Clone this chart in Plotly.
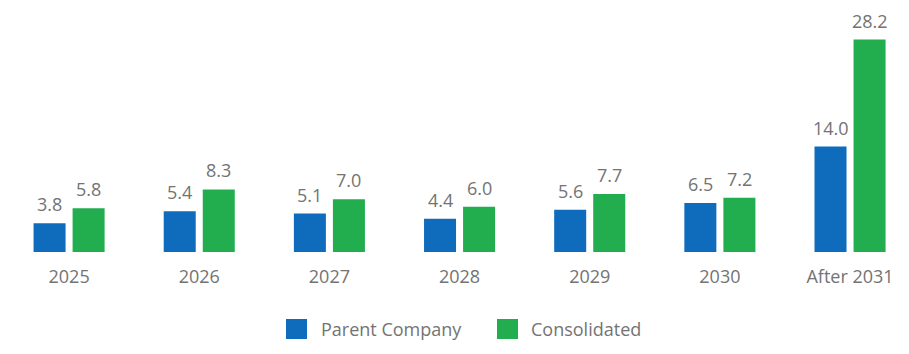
import plotly.graph_objects as go

categories = ["2025", "2026", "2027", "2028", "2029", "2030", "After 2031"]
parent_company = [3.8, 5.4, 5.1, 4.4, 5.6, 6.5, 14.0]
consolidated = [5.8, 8.3, 7.0, 6.0, 7.7, 7.2, 28.2]
series_names = ["Parent Company", "Consolidated"]

BLUE = "#0f6cbd"
GREEN = "#22ad4f"
GRAY = "#737373"
FONT = "Open Sans"

W, H = 909, 354
L, R, T, B = 4, 0, 26, 102

fig = go.Figure()
series = [(series_names[0], parent_company, BLUE, -19.5), (series_names[1], consolidated, GREEN, 19.5)]
for name, vals, col, shift in series:
    fig.add_trace(go.Bar(
        x=categories, y=vals, name=name, marker_color=col, marker_line_width=0,
        cliponaxis=False, showlegend=False,
    ))
    for i, v in enumerate(vals):
        fig.add_annotation(x=i, y=v, xref="x", yref="y", text=f"{v:.1f}", showarrow=False,
                           xanchor="center", yanchor="bottom", xshift=shift, yshift=5,
                           font=dict(family=FONT, size=18, color=GRAY))

# manual legend (pixel positions converted to paper coords)
pw, ph = W - L - R, H - T - B
def px(x):
    return (x - L) / pw
def py(y):
    return (H - B - y) / ph

legend_items = [(series_names[0], BLUE, 286, 319), (series_names[1], GREEN, 497, 529)]
for name, col, sx, tx in legend_items:
    fig.add_shape(type="rect", xref="paper", yref="paper",
                  x0=px(sx), x1=px(sx + 21), y0=py(339), y1=py(319),
                  fillcolor=col, line_width=0)
    fig.add_annotation(xref="paper", yref="paper", x=px(tx), y=py(329),
                       text=name, showarrow=False, xanchor="left", yanchor="middle",
                       font=dict(family=FONT, size=18, color=GRAY))

fig.update_layout(
    width=W, height=H,
    margin=dict(l=L, r=R, t=T, b=B),
    barmode="group", bargap=0.4, bargroupgap=0.18,
    plot_bgcolor="white", paper_bgcolor="white",
    font=dict(family=FONT, size=18, color=GRAY),
    xaxis=dict(type="category", range=[-0.5, 6.453], showgrid=False, showline=False, zeroline=False,
               tickfont=dict(family=FONT, size=18, color=GRAY), ticks="",
               ticklabelstandoff=12),
    yaxis=dict(range=[0, 30], visible=False),
)

fig.write_html("out.html")
